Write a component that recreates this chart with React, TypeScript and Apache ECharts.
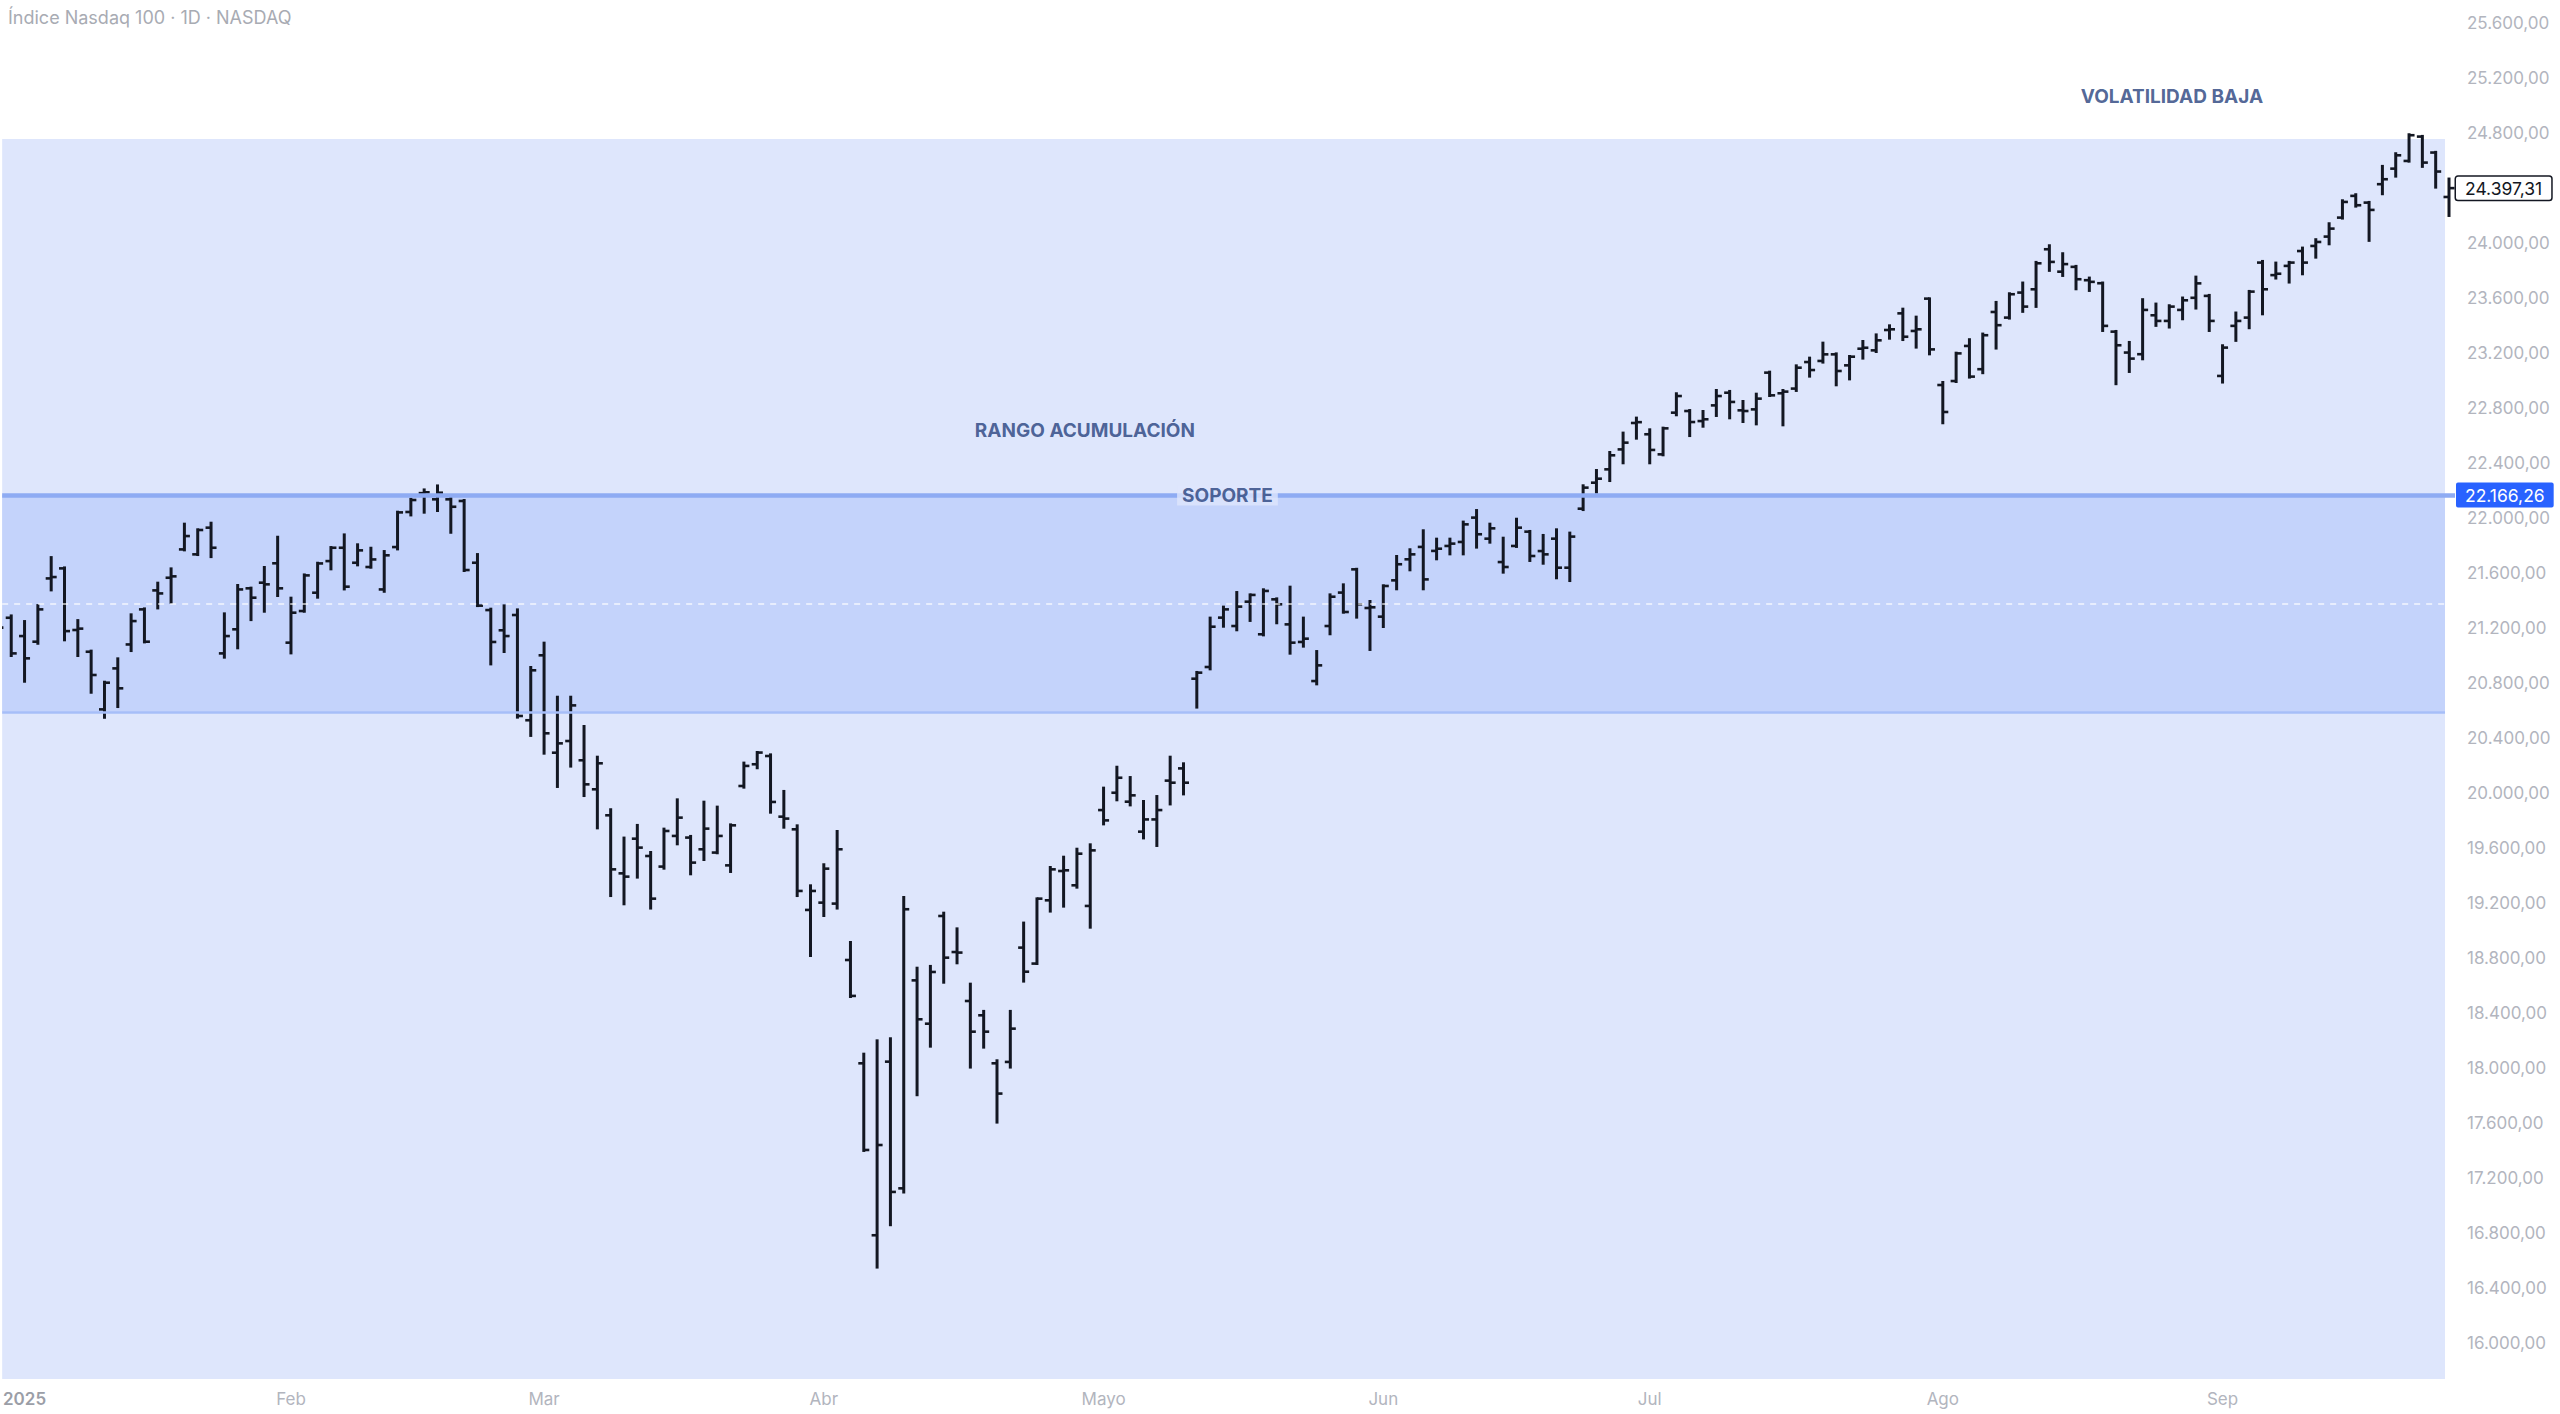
import React, { useEffect, useRef } from "react";
import * as echarts from "echarts";

// ---- DATA ----
const DATES = [
  "2024-12-30","2024-12-31",
  "2025-01-02","2025-01-03","2025-01-06","2025-01-07","2025-01-08","2025-01-10","2025-01-13","2025-01-14","2025-01-15","2025-01-16","2025-01-17","2025-01-21","2025-01-22","2025-01-23","2025-01-24","2025-01-27","2025-01-28","2025-01-29","2025-01-30","2025-01-31",
  "2025-02-03","2025-02-04","2025-02-05","2025-02-06","2025-02-07","2025-02-10","2025-02-11","2025-02-12","2025-02-13","2025-02-14","2025-02-18","2025-02-19","2025-02-20","2025-02-21","2025-02-24","2025-02-25","2025-02-26","2025-02-27","2025-02-28",
  "2025-03-03","2025-03-04","2025-03-05","2025-03-06","2025-03-07","2025-03-10","2025-03-11","2025-03-12","2025-03-13","2025-03-14","2025-03-17","2025-03-18","2025-03-19","2025-03-20","2025-03-21","2025-03-24","2025-03-25","2025-03-26","2025-03-27","2025-03-28","2025-03-31",
  "2025-04-01","2025-04-02","2025-04-03","2025-04-04","2025-04-07","2025-04-08","2025-04-09","2025-04-10","2025-04-11","2025-04-14","2025-04-15","2025-04-16","2025-04-17","2025-04-21","2025-04-22","2025-04-23","2025-04-24","2025-04-25","2025-04-28","2025-04-29","2025-04-30",
  "2025-05-01","2025-05-02","2025-05-05","2025-05-06","2025-05-07","2025-05-08","2025-05-09","2025-05-12","2025-05-13","2025-05-14","2025-05-15","2025-05-16","2025-05-19","2025-05-20","2025-05-21","2025-05-22","2025-05-23","2025-05-27","2025-05-28","2025-05-29","2025-05-30",
  "2025-06-02","2025-06-03","2025-06-04","2025-06-05","2025-06-06","2025-06-09","2025-06-10","2025-06-11","2025-06-12","2025-06-13","2025-06-16","2025-06-17","2025-06-18","2025-06-20","2025-06-23","2025-06-24","2025-06-25","2025-06-26","2025-06-27","2025-06-30",
  "2025-07-01","2025-07-02","2025-07-03","2025-07-07","2025-07-08","2025-07-09","2025-07-10","2025-07-11","2025-07-14","2025-07-15","2025-07-16","2025-07-17","2025-07-18","2025-07-21","2025-07-22","2025-07-23","2025-07-24","2025-07-25","2025-07-28","2025-07-29","2025-07-30","2025-07-31",
  "2025-08-01","2025-08-04","2025-08-05","2025-08-06","2025-08-07","2025-08-08","2025-08-11","2025-08-12","2025-08-13","2025-08-14","2025-08-15","2025-08-18","2025-08-19","2025-08-20","2025-08-21","2025-08-22","2025-08-25","2025-08-26","2025-08-27","2025-08-28","2025-08-29",
  "2025-09-02","2025-09-03","2025-09-04","2025-09-05","2025-09-08","2025-09-09","2025-09-10","2025-09-11","2025-09-12","2025-09-15","2025-09-16","2025-09-17","2025-09-18","2025-09-19","2025-09-22","2025-09-23","2025-09-24","2025-09-25",
];

const OPENS = [
  21180,21274,21141,21100,21560,21633,21185,21027,20608,20906,21080,21335,21473,21565,21771,21735,21929,21015,21190,21488,
  21529,21670,21093,21323,21456,21686,21783,21674,21643,21480,21788,22043,22180,22135,22135,22123,21674,21330,21183,21294,
  20529,21001,20293,20378,20238,20027,19838,19416,19668,19542,19465,19688,19676,19591,19567,19474,20051,20209,20269,19828,
  19736,19150,19203,19196,18786,18035,16785,18047,17126,18638,18323,19106,18844,18488,18384,18035,18045,18876,18760,19220,
  19433,19329,19179,19876,20002,19937,19719,19808,20090,20179,20831,20916,21275,21214,21391,21154,21408,21226,21098,20814,
  21214,21457,21626,21345,21282,21546,21699,21789,21760,21796,21825,22002,21849,21679,21796,21900,21759,21849,21638,22067,
  22256,22353,22498,22690,22608,22462,22765,22777,22704,22818,22910,22782,22789,23056,22906,22940,23133,23141,23189,23109,
  23230,23218,23366,23487,23359,23594,22966,22995,23250,23081,23497,23456,23638,23662,23953,23790,23825,23728,23706,23354,
  23202,23190,23473,23432,23512,23600,23614,23032,23396,23456,23856,23765,23832,23940,23977,24045,24183,24341,24292,24426,
  24539,24595,24772,24656,24333,
];

const HIGHS = [
  21300,21291,21250,21366,21715,21640,21257,21035,20809,20979,21299,21342,21529,21633,21958,21917,21965,21306,21512,21493,
  21643,21863,21420,21589,21674,21788,21880,21808,21783,21759,22045,22139,22207,22236,22166,22130,21737,21340,21364,21335,
  20916,21093,20700,20700,20487,20264,19882,19676,19768,19571,19741,19954,19688,19937,19901,19772,20221,20298,20281,20015,
  19765,19329,19482,19724,18917,18105,18202,18217,19244,18730,18743,19130,19016,18614,18416,18057,18416,19058,19234,19462,
  19537,19595,19627,20039,20191,20116,19942,19978,20264,20216,20880,21275,21355,21461,21444,21481,21415,21500,21275,21032,
  21444,21517,21630,21396,21510,21723,21772,21910,21849,21849,21973,22057,21958,21856,21994,21905,21876,21917,21893,22237,
  22348,22479,22620,22729,22644,22656,22906,22784,22777,22930,22923,22850,22903,23063,22930,23109,23165,23274,23196,23177,
  23286,23334,23400,23521,23463,23596,22988,23201,23299,23340,23570,23633,23711,23861,23982,23924,23832,23747,23711,23359,
  23279,23590,23558,23546,23602,23754,23621,23255,23493,23650,23868,23856,23861,23965,24026,24142,24309,24353,24297,24559,
  24651,24789,24777,24661,24467,
];

const LOWS = [
  21000,20996,20809,21085,21473,21110,20996,20729,20547,20625,21032,21095,21342,21383,21764,21730,21715,20984,21052,21257,
  21318,21432,21015,21318,21420,21626,21480,21655,21638,21463,21771,22018,22038,22050,21892,21614,21359,20935,21025,20548,
  20415,20286,20044,20192,19978,19743,19251,19191,19385,19160,19450,19627,19409,19513,19562,19426,20039,20180,19857,19748,
  19251,18815,19106,19160,18517,17398,16550,16858,17095,17803,18156,18621,18762,18004,18149,17604,18004,18629,18757,19138,
  19174,19312,19021,19772,19947,19910,19670,19615,19917,19990,20621,20899,21209,21183,21251,21146,21234,21013,21064,20790,
  21154,21311,21275,21040,21207,21481,21619,21481,21699,21735,21735,21784,21820,21602,21789,21687,21667,21561,21541,22057,
  22184,22268,22397,22576,22397,22455,22746,22595,22663,22741,22724,22697,22680,22886,22673,22923,23027,23129,22964,23007,
  23158,23206,23303,23293,23238,23189,22688,22988,23020,23052,23231,23449,23498,23534,23796,23759,23662,23650,23359,22972,
  23061,23153,23396,23384,23444,23522,23359,22984,23287,23379,23480,23740,23711,23771,23892,23989,24176,24263,24014,24353,
  24481,24590,24552,24401,24195,
];

const CLOSES = [
  21202,21015,20979,21335,21570,21177,21195,20858,20802,20761,21250,21100,21451,21575,21868,21912,21783,21141,21480,21420,
  21517,21488,21311,21582,21669,21783,21500,21764,21698,21728,22040,22130,22186,22183,22081,21621,21362,21098,21141,20560,
  20892,20434,20361,20637,20063,20216,19445,19392,19603,19232,19724,19821,19494,19741,19688,19765,20197,20294,19935,19814,
  19288,19288,19450,19591,18525,17405,17441,17100,19155,18355,18699,18803,18840,18265,18265,17815,18287,18701,19232,19445,
  19438,19559,19583,19801,20111,19983,19808,19876,20075,20075,20875,21209,21335,21355,21440,21469,21372,21093,21122,20928,
  21427,21316,21372,21350,21505,21663,21735,21553,21776,21813,21953,21881,21924,21643,21929,21723,21735,21638,21864,22220,
  22285,22455,22547,22696,22494,22651,22886,22697,22717,22886,22843,22777,22867,22891,22918,23092,23075,23189,23068,23172,
  23237,23291,23371,23317,23371,23225,22770,23196,23027,23328,23401,23626,23536,23851,23861,23845,23735,23716,23396,23255,
  23158,23512,23432,23536,23582,23705,23432,23238,23432,23645,23662,23775,23856,23856,24006,24103,24297,24273,24239,24462,
  24636,24782,24583,24518,24397.31,
];

const Y_TICKS = [
  16000, 16400, 16800, 17200, 17600, 18000, 18400, 18800, 19200, 19600, 20000, 20400, 20800,
  21200, 21600, 22000, 22400, 22800, 23200, 23600, 24000, 24800, 25200, 25600,
];

const MONTH_NAMES: Record<string, string> = {
  "01": "2025", "02": "Feb", "03": "Mar", "04": "Abr", "05": "Mayo",
  "06": "Jun", "07": "Jul", "08": "Ago", "09": "Sep",
};

// zones / levels
const SUPPORT_LEVEL = 22166.26;
const RANGE_LOW = 20590;
const VOL_TOP = 24755;
const ZONE_END_X = 183.7;
const LAST_PRICE = 24397.31;

const ANNOT_TEXT = ["RANGO ACUMULACIÓN", "SOPORTE", "VOLATILIDAD BAJA"];
const ANNOT_X = [81.6, 92.3, 163.2];
const ANNOT_Y = [22639, 22162, 25065];

const X_MIN = 0.32;
const X_MAX = 184.45;
const Y_MIN = 15740;
const Y_MAX = 25765;

function fmt(v: number): string {
  const s = v.toFixed(2);
  const [i, d] = s.split(".");
  return i.replace(/\B(?=(\d{3})+(?!\d))/g, ".") + "," + d;
}

const FONT = "Inter, Roboto, 'Noto Sans', sans-serif";

export default function App() {
  const ref = useRef<HTMLDivElement>(null);

  useEffect(() => {
    document.body.style.margin = "0";
    if (!ref.current) return;
    const chart = echarts.init(ref.current, undefined, { renderer: "svg" });

    // month label positions: first trading day of each month in 2025
    const monthIdx: number[] = [];
    const monthLbl: Record<number, string> = {};
    let prev = "";
    DATES.forEach((d, i) => {
      const [y, m] = d.split("-");
      if (y === "2025" && m !== prev) {
        monthIdx.push(i);
        monthLbl[i] = MONTH_NAMES[m];
      }
      prev = y === "2025" ? m : prev;
    });

    const ohlc = DATES.map((_, i) => [i, OPENS[i], HIGHS[i], LOWS[i], CLOSES[i]]);

    const annotData = ANNOT_TEXT.map((t, i) => {
      const item: any = { value: [ANNOT_X[i], ANNOT_Y[i], t] };
      if (t === "SOPORTE") {
        item.label = { backgroundColor: "#dee6fc", padding: [1, 5], lineHeight: 18 };
      }
      return item;
    });

    const midLevel = (RANGE_LOW + SUPPORT_LEVEL) / 2;

    const option: any = {
      animation: false,
      backgroundColor: "#ffffff",
      textStyle: { fontFamily: FONT },
      graphic: [
        {
          type: "text",
          left: 8,
          top: 8,
          style: {
            text: "Índice Nasdaq 100 · 1D · NASDAQ",
            fill: "#a8abb3",
            font: `400 18px ${FONT}`,
          },
        },
      ],
      grid: { left: 0, right: 105, top: 0, bottom: 35, containLabel: false },
      xAxis: {
        type: "value",
        min: X_MIN,
        max: X_MAX,
        axisLine: { show: false },
        axisTick: { show: false },
        splitLine: { show: false },
        axisLabel: {
          customValues: monthIdx,
          margin: 11,
          formatter: (v: number) => {
            const t = monthLbl[Math.round(v)] || "";
            return t === "2025" ? `{y|${t}}` : `{m|${t}}`;
          },
          rich: {
            y: { fontSize: 17, fontWeight: 600, color: "#9b9ea7", fontFamily: FONT },
            m: { fontSize: 17, fontWeight: 400, color: "#b2b5be", fontFamily: FONT },
          },
        },
      },
      yAxis: {
        type: "value",
        position: "right",
        min: Y_MIN,
        max: Y_MAX,
        axisLine: { show: false },
        axisTick: { show: false },
        splitLine: { show: false },
        axisLabel: {
          customValues: Y_TICKS,
          margin: 12,
          color: "#b2b5be",
          fontSize: 17,
          fontFamily: FONT,
          formatter: (v: number) => fmt(v),
        },
      },
      series: [
        {
          type: "line",
          z: 1,
          silent: true,
          data: CLOSES.map((c, i) => [i, c]),
          showSymbol: false,
          lineStyle: { color: "transparent", width: 0 },
          markArea: {
            silent: true,
            data: [
              [
                { xAxis: X_MIN, yAxis: Y_MIN, itemStyle: { color: "#dee6fc" } },
                { xAxis: ZONE_END_X, yAxis: VOL_TOP },
              ],
              [
                { xAxis: X_MIN, yAxis: RANGE_LOW, itemStyle: { color: "#c4d3fb" } },
                { xAxis: ZONE_END_X, yAxis: SUPPORT_LEVEL },
              ],
            ],
          },
          markLine: {
            silent: true,
            symbol: ["none", "none"],
            data: [
              [
                { coord: [X_MIN, RANGE_LOW], lineStyle: { color: "#a6bef8", width: 2.5, type: "solid" }, label: { show: false } },
                { coord: [ZONE_END_X, RANGE_LOW] },
              ],
              [
                { coord: [X_MIN, midLevel], lineStyle: { color: "rgba(255,255,255,0.8)", width: 1.5, type: [6, 6] }, label: { show: false } },
                { coord: [ZONE_END_X, midLevel] },
              ],
              {
                yAxis: SUPPORT_LEVEL,
                lineStyle: { color: "#8eabf3", width: 4.5, type: "solid" },
                label: {
                  show: true,
                  position: "end",
                  distance: 1,
                  formatter: () => fmt(SUPPORT_LEVEL),
                  backgroundColor: "#2962ff",
                  color: "#ffffff",
                  fontSize: 17.5,
                  fontFamily: FONT,
                  padding: [4, 9, 3, 9],
                  borderRadius: 2,
                },
              },
              {
                yAxis: LAST_PRICE,
                lineStyle: { color: "transparent", width: 1, type: "solid" },
                label: {
                  show: true,
                  position: "end",
                  distance: 1,
                  formatter: () => fmt(LAST_PRICE),
                  backgroundColor: "#ffffff",
                  borderColor: "#131722",
                  borderWidth: 1.5,
                  color: "#131722",
                  fontSize: 17.5,
                  fontFamily: FONT,
                  padding: [3, 9, 2, 9],
                  borderRadius: 2,
                },
              },
            ],
          },
        },
        {
          type: "custom",
          z: 3,
          clip: true,
          data: ohlc,
          renderItem: (params: any, api: any) => {
            const x = api.value(0);
            const pH = api.coord([x, api.value(2)]);
            const pL = api.coord([x, api.value(3)]);
            const pO = api.coord([x, api.value(1)]);
            const pC = api.coord([x, api.value(4)]);
            const style = { stroke: "#131722", lineWidth: 3, lineCap: "butt" };
            const tick = { stroke: "#131722", lineWidth: 2.6, lineCap: "butt" };
            return {
              type: "group",
              children: [
                { type: "line", shape: { x1: pH[0], y1: pH[1] - 1, x2: pL[0], y2: pL[1] + 1 }, style },
                { type: "line", shape: { x1: pO[0] - 5.5, y1: pO[1], x2: pO[0], y2: pO[1] }, style: tick },
                { type: "line", shape: { x1: pC[0], y1: pC[1], x2: pC[0] + 5.5, y2: pC[1] }, style: tick },
              ],
            };
          },
        },
        {
          type: "scatter",
          z: 5,
          silent: true,
          symbolSize: 1,
          itemStyle: { color: "transparent" },
          data: annotData,
          label: {
            show: true,
            position: "inside",
            formatter: (p: any) => p.value[2],
            color: "#26407c",
            fontSize: 19,
            fontWeight: 700,
            fontFamily: FONT,
          },
        },
      ],
    };

    chart.setOption(option);
    return () => chart.dispose();
  }, []);

  return <div ref={ref} style={{ width: 2560, height: 1414 }} />;
}
